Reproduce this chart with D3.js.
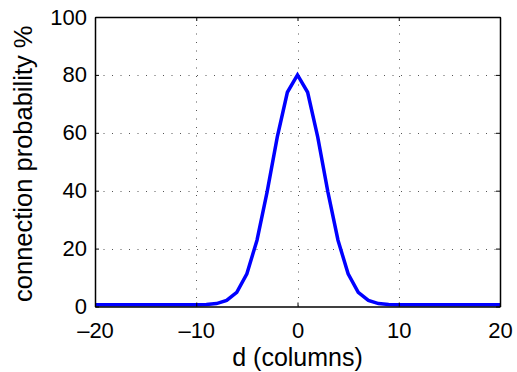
<!DOCTYPE html>
<html>
<head>
<meta charset="utf-8">
<script src="https://cdn.jsdelivr.net/npm/d3@7"></script>
<style>
  body { margin: 0; background: #fff; }
  text { font-family: "Liberation Sans", Arial, sans-serif; fill: #000; }
</style>
</head>
<body>
<div id="graph"></div>
<script>
// columns offset d and connection probability (%)
var dValues = [-20, -19, -18, -17, -16, -15, -14, -13, -12, -11, -10, -9, -8, -7, -6, -5, -4, -3, -2, -1,
  0, 1, 2, 3, 4, 5, 6, 7, 8, 9, 10, 11, 12, 13, 14, 15, 16, 17, 18, 19, 20];
var probValues = [0.6, 0.6, 0.6, 0.6, 0.6, 0.6, 0.6, 0.6, 0.6, 0.6, 0.6, 0.7, 1.0, 2.1, 4.9, 11.3, 22.9, 39.6, 58.5, 74,
  80, 74, 58.5, 39.6, 22.9, 11.3, 4.9, 2.1, 1.0, 0.7, 0.6, 0.6, 0.6, 0.6, 0.6, 0.6, 0.6, 0.6, 0.6, 0.6, 0.6];
var xTicks = [-20, -10, 0, 10, 20];
var yTicks = [0, 20, 40, 60, 80, 100];
var xTickLabels = ['\u201320', '\u201310', '0', '10', '20'];

(function() {
  var width = 517, height = 372,
    margin = { left: 95, right: 17, top: 17, bottom: 65.5 };
  var svg = d3.select('#graph').append('svg')
    .attr('width', width)
    .attr('height', height);

  var x = d3.scaleLinear().domain([-20, 20]).range([margin.left, width - margin.right]);
  var y = d3.scaleLinear().domain([0, 100]).range([height - margin.bottom, margin.top]);

  // dotted grid
  var grid = svg.append('g')
    .attr('stroke', '#555')
    .attr('stroke-width', 1)
    .attr('stroke-dasharray', '1,7.5');
  xTicks.slice(1, -1).forEach(function(t) {
    grid.append('line')
      .attr('x1', Math.round(x(t)) + 0.5).attr('x2', Math.round(x(t)) + 0.5)
      .attr('y1', y(0)).attr('y2', y(100));
  });
  yTicks.slice(1, -1).forEach(function(t) {
    grid.append('line')
      .attr('x1', x(-20)).attr('x2', x(20))
      .attr('y1', Math.round(y(t)) + 0.5).attr('y2', Math.round(y(t)) + 0.5);
  });

  // curve
  var line = d3.line()
    .x(function(d, i) { return x(dValues[i]); })
    .y(function(d) { return y(d); });
  svg.append('path')
    .datum(probValues)
    .attr('d', line)
    .attr('fill', 'none')
    .attr('stroke', '#0000ff')
    .attr('stroke-width', 3.5)
    .attr('stroke-linejoin', 'miter');

  // axes (inward ticks, MATLAB style)
  var xAxis = d3.axisBottom(x).tickValues(xTicks).tickSizeInner(-4).tickSizeOuter(0)
    .tickFormat(function(d, i) { return xTickLabels[i]; }).tickPadding(15.5);
  var gx = svg.append('g')
    .attr('transform', 'translate(0,' + y(0) + ')')
    .call(xAxis);
  var yAxis = d3.axisLeft(y).tickValues(yTicks).tickSizeInner(-4).tickSizeOuter(0).tickPadding(8);
  var gy = svg.append('g')
    .attr('transform', 'translate(' + x(-20) + ',0)')
    .call(yAxis);
  var gxTop = svg.append('g')
    .attr('transform', 'translate(0,' + y(100) + ')')
    .call(d3.axisTop(x).tickValues(xTicks).tickSizeInner(-4).tickSizeOuter(0).tickFormat(''));
  var gyRight = svg.append('g')
    .attr('transform', 'translate(' + x(20) + ',0)')
    .call(d3.axisRight(y).tickValues(yTicks).tickSizeInner(-4).tickSizeOuter(0).tickFormat(''));

  [gx, gy, gxTop, gyRight].forEach(function(g) {
    g.selectAll('path').attr('stroke', '#000').attr('stroke-width', 1.5);
    g.selectAll('line').attr('stroke', '#000').attr('stroke-width', 1);
    g.selectAll('text').attr('font-size', '22px').attr('fill', '#000')
      .style('font-family', '"Liberation Sans", Arial, sans-serif');
  });
  gx.selectAll('text').attr('dy', '0.71em');

  // labels
  svg.append('text')
    .attr('x', x(0))
    .attr('y', 366)
    .attr('text-anchor', 'middle')
    .attr('font-size', '25px')
    .text('d (columns)');
  svg.append('text')
    .attr('transform', 'translate(32,' + (y(50) + 2) + ') rotate(-90)')
    .attr('text-anchor', 'middle')
    .attr('font-size', '25.5px')
    .text('connection probability %');
})();
</script>
</body>
</html>
